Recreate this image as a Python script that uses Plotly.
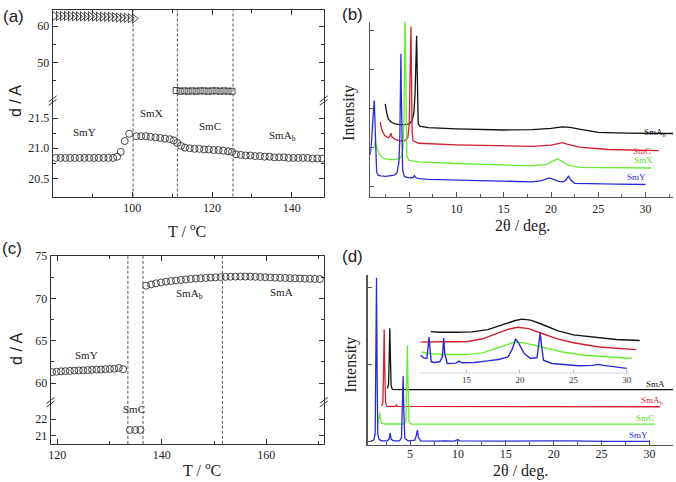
import plotly.graph_objects as go

W, H = 676, 482
def fx(x): return x / W
def fy(y): return 1 - y / H

# ---------------- Panel (a) data ----------------
a_tri_T = [80.5, 81.5, 82.5, 83.5, 84.5, 85.5, 86.5, 87.5, 88.5, 89.5, 90.5, 91.5, 92.5, 93.5,
           94.5, 95.5, 96.5, 97.5, 98.5, 99.5, 100.5]
a_tri_d = [62.8, 62.8, 62.8, 62.8, 62.75, 62.75, 62.7, 62.7, 62.7, 62.7, 62.65, 62.65, 62.6, 62.6,
           62.55, 62.5, 62.4, 62.35, 62.3, 62.2, 62.1]
a_sq_T = [111, 112, 113, 114, 115, 116, 117, 118, 119, 120, 121, 122, 123, 124, 125]
a_sq_d = [42.2, 42.0, 42.1, 42.0, 42.1, 42.0, 42.1, 42.1, 42.0, 42.1, 42.1, 42.0, 42.1, 42.0, 42.0]
a_circ_T = [80.8, 82.0, 83.2, 84.4, 85.6, 86.8, 88.0, 89.2, 90.4, 91.6, 92.8, 94.0, 95.2, 96.2,
            97.1, 98.1, 99.2, 101.0, 102.2, 103.4, 104.6, 105.8, 107.0, 108.2, 109.4, 110.4,
            111.3, 112.2, 113.2, 114.4, 115.6, 116.8, 118.0, 119.2, 120.4, 121.6, 122.8, 124.0,
            125.0, 126.0, 127.2, 128.4, 129.6, 130.8, 132.0, 133.2, 134.4, 135.6, 136.8, 138.0,
            139.2, 140.4, 141.6, 142.8, 144.0, 145.2, 146.4, 147.6]
a_circ_d = [20.84, 20.84, 20.84, 20.84, 20.84, 20.84, 20.84, 20.84, 20.84, 20.84, 20.84, 20.84,
            20.84, 20.86, 20.94, 21.12, 21.24, 21.20, 21.20, 21.20, 21.19, 21.18, 21.17, 21.16,
            21.15, 21.13, 21.09, 21.04, 21.01, 21.00, 20.99, 20.99, 20.98, 20.98, 20.97, 20.97,
            20.96, 20.95, 20.94, 20.90, 20.89, 20.88, 20.88, 20.87, 20.87, 20.86, 20.86, 20.85,
            20.85, 20.85, 20.84, 20.84, 20.84, 20.84, 20.84, 20.83, 20.83, 20.83]
a_trans = [100.2, 111.3, 125.25]
a_xticks = [100, 120, 140]
a_xminor = [90, 110, 130]
a_lo_ticks = [20.5, 21.0, 21.5]
a_lo_text = ["20.5", "21.0", "21.5"]
a_hi_ticks = [50, 60]

# ---------------- Panel (c) data ----------------
c_y_T = [119.0, 119.85, 120.7, 121.55, 122.4, 123.25, 124.1, 124.95, 125.8, 126.65, 127.5,
         128.35, 129.2, 130.05, 130.9, 131.75, 132.6]
c_y_d = [61.3, 61.35, 61.4, 61.42, 61.45, 61.48, 61.5, 61.52, 61.55, 61.58, 61.6, 61.62, 61.65,
         61.68, 61.7, 61.8, 61.65]
c_c_T = [133.9, 134.9, 135.9]
c_c_d = [21.35, 21.35, 21.35]
c_a_T = [137.0, 137.95, 138.9, 139.85, 140.8, 141.75, 142.7, 143.65, 144.6, 145.55, 146.5,
         147.45, 148.4, 149.35, 150.3, 151.25, 152.2, 153.15, 154.1, 155.05, 156.0, 156.95,
         157.9, 158.85, 159.8, 160.75, 161.7, 162.65, 163.6, 164.55, 165.5, 166.45, 167.4,
         168.35, 169.3, 170.25]
c_a_d = [71.5, 71.65, 71.78, 71.88, 71.97, 72.05, 72.12, 72.18, 72.24, 72.29, 72.34, 72.38,
         72.42, 72.46, 72.49, 72.52, 72.54, 72.56, 72.57, 72.58, 72.58, 72.57, 72.55, 72.53,
         72.5, 72.48, 72.45, 72.43, 72.41, 72.39, 72.37, 72.35, 72.33, 72.31, 72.3, 72.28]
c_trans = [133.5, 136.4, 151.6]
c_xticks = [120, 140, 160]
c_xminor = [130, 150, 170]
c_lo_ticks = [21, 22]
c_hi_ticks = [60, 65, 70, 75]
c_hi_minor = [62.5, 67.5, 72.5]

# ---------------- Panel (b) data ----------------
b_smy_x = [0.87, 1.0, 1.15, 1.25, 1.3, 1.38, 1.45, 1.55, 1.7, 2.0, 2.5, 3.0, 3.4, 3.7, 3.9, 4.0,
           4.08, 4.12, 4.16, 4.22, 4.3, 4.5, 5.0, 5.4, 5.55, 5.7, 6.0, 7, 10, 15, 18, 19.0, 19.5,
           19.8, 20.2, 20.8, 21.3, 21.6, 21.85, 22.05, 22.5, 24, 27, 30]
b_smy_y = [0.40, 0.55, 0.85, 1.05, 1.10, 0.8, 0.35, 0.18, 0.14, 0.13, 0.125, 0.13, 0.14, 0.17,
           0.3, 0.6, 1.2, 1.70, 1.2, 0.5, 0.2, 0.12, 0.105, 0.11, 0.135, 0.11, 0.095, 0.085,
           0.075, 0.06, 0.055, 0.07, 0.095, 0.105, 0.09, 0.06, 0.055, 0.08, 0.13, 0.08, 0.035,
           0.03, 0.025, 0.02]
b_smx_x = [1.3, 1.4, 1.55, 1.8, 2.1, 2.5, 3.0, 3.5, 3.9, 4.2, 4.35, 4.45, 4.52, 4.56, 4.62, 4.68,
           4.75, 5.0, 6, 10, 15, 18, 19.5, 20.3, 20.7, 21.1, 21.8, 23, 26, 30.6]
b_smx_y = [0.50, 0.57, 0.50, 0.42, 0.37, 0.35, 0.34, 0.34, 0.35, 0.38, 0.5, 0.9, 1.8, 2.3, 1.6,
           0.6, 0.38, 0.33, 0.31, 0.29, 0.27, 0.26, 0.28, 0.33, 0.35, 0.32, 0.27, 0.24, 0.235,
           0.232]
b_smc_x = [1.93, 2.1, 2.4, 2.8, 2.95, 3.06, 3.18, 3.5, 4.0, 4.5, 4.85, 5.0, 5.1, 5.18, 5.24, 5.3,
           5.4, 6, 10, 15, 18, 20, 20.8, 21.2, 21.7, 23, 26, 31.4]
b_smc_y = [0.82, 0.72, 0.65, 0.62, 0.64, 0.68, 0.63, 0.60, 0.58, 0.58, 0.62, 0.8, 1.5, 2.05,
           1.4, 0.7, 0.58, 0.55, 0.53, 0.515, 0.51, 0.525, 0.55, 0.557, 0.54, 0.5, 0.47, 0.455]
b_sma_x = [2.46, 2.6, 2.8, 3.1, 3.5, 4.0, 4.5, 5.0, 5.3, 5.5, 5.62, 5.7, 5.78, 5.84, 5.9, 5.95,
           6.1, 7, 10, 15, 18, 20, 21.2, 22, 23, 25, 28, 32.9]
b_sma_y = [1.055, 0.95, 0.86, 0.82, 0.80, 0.79, 0.79, 0.80, 0.84, 0.95, 1.2, 1.5, 1.93, 1.5,
           1.0, 0.8, 0.77, 0.75, 0.735, 0.72, 0.725, 0.74, 0.76, 0.755, 0.73, 0.69, 0.68, 0.675]
b_xticks = [5, 10, 15, 20, 25, 30]

# ---------------- Panel (d) data ----------------
d_smy_x = [0.9, 1.2, 1.35, 1.42, 1.49, 1.55, 1.62, 1.75, 2.0, 2.6, 2.8, 2.92, 3.02, 3.3, 3.9,
           4.1, 4.2, 4.27, 4.34, 4.45, 4.8, 5.5, 5.65, 5.76, 5.86, 6.1, 8, 8.6, 9.6, 9.9, 10.0,
           10.15, 12, 15, 19.5, 20, 21.9, 25, 30]
d_smy_y = [0.01, 0.02, 0.1, 0.9, 2.12, 0.9, 0.1, 0.03, 0.01, 0.01, 0.03, 0.11, 0.03, 0.01, 0.01,
           0.05, 0.4, 0.85, 0.4, 0.04, 0.01, 0.02, 0.08, 0.153, 0.06, 0.01, 0.005, 0.01, 0.005,
           0.02, 0.026, 0.01, 0.005, 0.005, 0.01, 0.008, 0.01, 0.003, 0.003]
d_smc_x = [1.64, 1.75, 1.84, 1.92, 2.05, 2.5, 4.3, 4.55, 4.65, 4.72, 4.79, 4.88, 5.1, 30.6]
d_smc_y = [0.24, 0.30, 0.374, 0.28, 0.235, 0.228, 0.228, 0.26, 0.8, 1.247, 0.7, 0.26, 0.228,
           0.226]
d_smab_x = [2.0, 2.15, 2.22, 2.29, 2.36, 2.44, 2.6, 3.5, 3.58, 3.66, 31.1]
d_smab_y = [0.46, 0.5, 0.9, 1.45, 0.9, 0.5, 0.455, 0.455, 0.47, 0.455, 0.451]
d_sma_x = [2.65, 2.75, 2.82, 2.88, 2.94, 3.02, 3.15, 4, 32.5]
d_sma_y = [0.69, 0.75, 1.1, 1.468, 1.1, 0.72, 0.675, 0.672, 0.672]
d_xticks = [5, 10, 15, 20, 25, 30]

# inset of (d)
i_sma_x = [11.66, 12.5, 14, 15.5, 17, 18.5, 19.5, 20.2, 21, 22, 23.5, 25, 27, 29, 31.2]
i_sma_y = [1.27, 1.25, 1.25, 1.26, 1.33, 1.50, 1.60, 1.65, 1.62, 1.50, 1.30, 1.17, 1.10, 1.03,
           1.00]
i_smab_x = [10.7, 11.5, 12.5, 14, 15.1, 16.5, 18, 19, 19.8, 20.8, 22, 23.5, 25, 27.4, 30.9]
i_smab_y = [0.95, 0.96, 0.96, 0.96, 0.97, 1.05, 1.22, 1.35, 1.40, 1.36, 1.22, 1.05, 0.93, 0.80,
            0.72]
i_smc_x = [10.8, 11.5, 12.9, 15, 16.5, 18, 19.5, 20.5, 22, 24, 26, 28, 30.5]
i_smc_y = [0.65, 0.60, 0.57, 0.57, 0.62, 0.78, 0.95, 0.92, 0.80, 0.65, 0.55, 0.50, 0.45]
i_smy_x = [10.7, 11.0, 11.3, 11.42, 11.5, 11.58, 11.7, 12.0, 12.5, 12.75, 12.87, 12.97, 13.2,
           14.0, 14.3, 14.6, 15.7, 17.0, 18.0, 18.9, 19.3, 19.6, 19.9, 20.4, 21.0, 21.6, 21.8,
           21.9, 22.0, 22.2, 23.0, 25.5, 26.8, 27.3, 27.8, 29, 30.0]
i_smy_y = [0.55, 0.47, 0.45, 0.8, 1.10, 0.8, 0.35, 0.33, 0.35, 0.5, 1.07, 0.6, 0.30, 0.31, 0.37,
           0.32, 0.33, 0.38, 0.42, 0.50, 0.75, 1.05, 0.9, 0.6, 0.45, 0.48, 0.9, 1.23, 0.9, 0.40,
           0.30, 0.23, 0.24, 0.27, 0.24, 0.18, 0.15]
i_xticks = [15, 20, 25, 30]

BLUE, RED, GREEN, BLACK = "#2b2bd6", "#d21f2f", "#66ee33", "#111111"
SERIF = "Liberation Serif"
SANS = "Liberation Sans"
FRAME = "#333333"

fig = go.Figure()

def markers(x, y, sym, size, xa, ya):
    fig.add_trace(go.Scatter(x=x, y=y, mode="markers", xaxis=xa, yaxis=ya, hoverinfo="skip",
                             marker=dict(symbol=sym, size=size, color="#333333",
                                         line=dict(width=0.9, color="#333333"))))

def line(x, y, color, xa, ya, w=1.3):
    fig.add_trace(go.Scatter(x=x, y=y, mode="lines", xaxis=xa, yaxis=ya, hoverinfo="skip",
                             line=dict(color=color, width=w)))

# (a)
markers(a_circ_T, a_circ_d, "circle-open", 7, "x", "y")
markers(a_tri_T, a_tri_d, "triangle-right-open", 8, "x2", "y2")
markers(a_sq_T, a_sq_d, "square-open", 6, "x2", "y2")
# (c)
markers(c_c_T, c_c_d, "circle-open", 7, "x3", "y3")
markers(c_y_T, c_y_d, "circle-open", 7, "x4", "y4")
markers(c_a_T, c_a_d, "circle-open", 7, "x4", "y4")
# (b)
line(b_sma_x, b_sma_y, BLACK, "x5", "y5")
line(b_smc_x, b_smc_y, RED, "x5", "y5")
line(b_smx_x, b_smx_y, GREEN, "x5", "y5")
line(b_smy_x, b_smy_y, BLUE, "x5", "y5")
# (d)
line(d_sma_x, d_sma_y, BLACK, "x6", "y6")
line(d_smab_x, d_smab_y, RED, "x6", "y6")
line(d_smc_x, d_smc_y, GREEN, "x6", "y6")
line(d_smy_x, d_smy_y, BLUE, "x6", "y6")
# inset
line(i_sma_x, i_sma_y, BLACK, "x7", "y7", 1.4)
line(i_smab_x, i_smab_y, RED, "x7", "y7", 1.4)
line(i_smc_x, i_smc_y, GREEN, "x7", "y7", 1.4)
line(i_smy_x, i_smy_y, BLUE, "x7", "y7", 1.4)

tickfont = dict(family=SERIF, size=12, color="#222222")

def xax(dom, rng, anchor, tickvals, minor=None, side="bottom", labels=True, color=FRAME, lw=1):
    d = dict(domain=dom, range=rng, anchor=anchor, side=side, showline=True, linecolor=color,
             linewidth=lw, ticks="inside", ticklen=5, tickcolor=color, tickmode="array",
             tickvals=tickvals, showticklabels=labels, tickfont=tickfont, showgrid=False,
             zeroline=False, fixedrange=True)
    if minor is not None:
        d["minor"] = dict(ticks="inside", ticklen=3, tickcolor=color, tickmode="array",
                          tickvals=minor, showgrid=False)
    return d

def yax(dom, rng, anchor, tickvals, ticktext=None, minor=None, mirror="ticks", labels=True,
        color=FRAME, lw=1, ticklen=5):
    d = dict(domain=dom, range=rng, anchor=anchor, showline=True, linecolor=color, linewidth=lw,
             ticks="inside", ticklen=ticklen, tickcolor=color, tickmode="array", tickvals=tickvals,
             showticklabels=labels, tickfont=tickfont, showgrid=False, zeroline=False,
             mirror=mirror, fixedrange=True)
    if ticktext is not None:
        d["ticktext"] = ticktext
    if minor is not None:
        d["minor"] = dict(ticks="inside", ticklen=3, tickcolor=color, tickmode="array",
                          tickvals=minor, showgrid=False)
    return d

a_xd = [fx(50.7), fx(322.7)]
c_xd = [fx(48.7), fx(322.7)]
b_xd = [fx(369.3), fx(673)]
d_xd = [fx(366.7), fx(673.3)]

xaxis6 = xax(d_xd, [0.56, 32.5], "y6", d_xticks, [2.5, 7.5, 12.5, 17.5, 22.5, 27.5, 32.5],
             color="#555555", lw=1.2)
xaxis6["ticklabelstandoff"] = -2

layout = dict(
    width=W, height=H, margin=dict(l=0, r=0, t=0, b=0), showlegend=False,
    paper_bgcolor="white", plot_bgcolor="rgba(0,0,0,0)", hovermode=False,
    xaxis=xax(a_xd, [80, 148], "y", a_xticks, a_xminor),
    yaxis=yax([fy(192.3), fy(95)], [20.2, 21.79], "x", a_lo_ticks, a_lo_text,
              minor=[20.75, 21.25]),
    xaxis2=xax(a_xd, [80, 148], "y2", a_xticks, a_xminor, side="top", labels=False),
    yaxis2=yax([fy(95), fy(3.3)], [39.4, 64.4], "x2", a_hi_ticks, minor=[45, 55]),
    xaxis3=xax(c_xd, [118.7, 171], "y3", c_xticks, c_xminor),
    yaxis3=yax([fy(443.3), fy(401)], [20.5, 23.04], "x3", c_lo_ticks),
    xaxis4=xax(c_xd, [118.7, 171], "y4", c_xticks, c_xminor, side="top", labels=False),
    yaxis4=yax([fy(401), fy(252.7)], [57.76, 75], "x4", c_hi_ticks, minor=c_hi_minor),
    xaxis5=xax(b_xd, [0.87, 32.9], "y5", b_xticks, [2.5, 7.5, 12.5, 17.5, 22.5, 27.5, 32.5],
               color="#555555", lw=1.2),
    yaxis5=yax([fy(192.7), fy(15)], [-0.139, 2.11], "x5", [0, 0.5, 1, 1.5, 2], mirror=False,
               labels=False, color="#555555", lw=1.2, ticklen=4),
    xaxis6=xaxis6,
    yaxis6=yax([fy(444.3), fy(271.7)], [-0.042, 2.16], "x6", [0, 1, 2], mirror=False,
               labels=False, color="#555555", lw=1.2, ticklen=4),
    xaxis7=dict(domain=[fx(412), fx(640)], range=[9.98, 31.24], anchor="y7", showline=False,
                ticks="inside", ticklen=3, tickcolor="#a8b4d8", tickmode="array",
                tickvals=i_xticks, tickfont=dict(family=SERIF, size=9, color="#333333"),
                showgrid=False, zeroline=False, fixedrange=True),
    yaxis7=dict(domain=[fy(371.7), fy(311.7)], range=[0, 1.8], anchor="x7", visible=False,
                showgrid=False, zeroline=False, fixedrange=True),
)
fig.update_layout(**layout)

shapes = []
for t in a_trans:
    shapes.append(dict(type="line", xref="x", yref="paper", x0=t, x1=t, y0=fy(192.3), y1=fy(3.3),
                       line=dict(color="#555555", width=1, dash="3px,2px")))
for t in c_trans:
    shapes.append(dict(type="line", xref="x3", yref="paper", x0=t, x1=t, y0=fy(443.3),
                       y1=fy(252.7), line=dict(color="#555555", width=1, dash="3px,2px")))
# axis-break marks
for (xb, yb) in [(50.7, 95), (322.7, 95), (48.7, 401), (322.7, 401)]:
    for off in (-1.8, 1.8):
        yc = yb + off
        shapes.append(dict(type="line", xref="paper", yref="paper", x0=fx(xb - 4), y0=fy(yc + 3),
                           x1=fx(xb + 4), y1=fy(yc - 3), line=dict(color=FRAME, width=1)))
# inset axis line
shapes.append(dict(type="line", xref="x7", yref="y7", x0=10.66, x1=30.3, y0=0, y1=0,
                   line=dict(color="#a8b4d8", width=1.2)))
fig.update_layout(shapes=shapes)

ann = []
def text(s, x, y, size, family=SERIF, color="#222222", angle=0):
    ann.append(dict(text=s, x=fx(x), y=fy(y), xref="paper", yref="paper", showarrow=False,
                    font=dict(family=family, size=size, color=color), textangle=angle,
                    xanchor="center", yanchor="middle"))

# panel letters
text("(a)", 12, 10, 17, SANS)
text("(b)", 352, 8, 17, SANS)
text("(c)", 10, 245, 17, SANS)
text("(d)", 352, 253, 17, SANS)
# axis titles
text("d / A", 13.5, 95, 16, SANS, angle=-90)
text("d / A", 15, 347, 16, SANS, angle=-90)
text("T / <sup>o</sup>C", 186, 226, 16)
text("T / <sup>o</sup>C", 201, 469, 16)
text("Intensity", 348.5, 107, 16, angle=-90)
text("Intensity", 350, 363, 16, angle=-90)
text("2θ / deg.", 522, 222, 16)
text("2θ / deg.", 520, 471, 16)
# phase labels (a)
text("SmY", 82.5, 127, 11)
text("SmX", 150, 107.5, 11)
text("SmC", 208.3, 120.7, 11)
text("SmA<sub>b</sub>", 281, 131, 11)
# phase labels (c)
text("SmY", 85, 352.7, 11)
text("SmC", 132, 408.3, 11)
text("SmA<sub>b</sub>", 188, 291, 11)
text("SmA", 280, 289.3, 11)
# (b) curve labels
text("SmA<sub>b</sub>", 655, 127.5, 9, color=BLACK)
text("SmC", 642, 145.7, 9, color=RED)
text("SmX", 643, 155, 9, color="#55dd22")
text("SmY", 636.5, 172.7, 9, color=BLUE)
# (d) curve labels
text("SmA", 655, 382.3, 9, color=BLACK)
text("SmA<sub>b</sub>", 652, 399.5, 9, color=RED)
text("SmC", 645, 416.7, 9, color="#55dd22")
text("SmY", 638.3, 434, 9, color=BLUE)
fig.update_layout(annotations=ann)

fig.write_html("out.html", config={"displayModeBar": False, "staticPlot": True},
               post_script="document.body.style.margin='0';")
